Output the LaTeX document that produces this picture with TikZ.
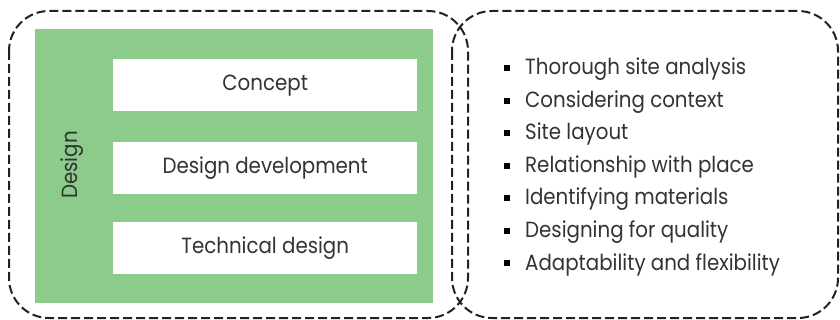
\documentclass[tikz,border=0pt]{standalone}
\usepackage{fontspec}
\setmainfont[FakeStretch=0.9]{Poppins}
\definecolor{stage}{HTML}{8DCB8B}
\definecolor{ink}{HTML}{333333}
\definecolor{dashink}{HTML}{222222}
\tikzset{
  frame/.style={draw=dashink, line width=2pt, dash pattern=on 9pt off 4pt, rounded corners=40pt},
  stagebox/.style={fill=stage, draw=none, inner sep=0pt, anchor=north west},
  phase/.style={fill=white, draw=none, inner sep=0pt, anchor=north west, minimum width=304pt, minimum height=52pt},
  txt/.style={text=ink, font=\fontsize{22}{26}\selectfont},
  item/.style={txt, anchor=base west, inner sep=0pt},
  bul/.style={fill=black, draw=none, minimum size=6pt, inner sep=0pt}
}
\begin{document}
\begin{tikzpicture}[x=1pt,y=-1pt]
\useasboundingbox (0,0) rectangle (840,320);
\draw[frame] (9,11) rectangle (468,318);
\draw[frame] (452,11) rectangle (838,318);
\node[stagebox, minimum width=398pt, minimum height=274pt] (stage) at (35,29) {};
\node[phase] (concept) at (113,59) {};
\node[txt] (conceptT) at (concept.center) {Concept};
\node[phase] (devel) at (113,142) {};
\node[txt] (develT) at (devel.center) {Design development};
\node[phase] (tech) at (113,222) {};
\node[txt] (techT) at (tech.center) {Technical design};
\node[txt, rotate=90] (design) at (72,165) {Design};
\foreach \t [count=\i from 0] in {Thorough site analysis, Considering context, Site layout, Relationship with place, Identifying materials, Designing for quality, Adaptability and flexibility}{
  \node[item] (it\i) at (525,75+32.5*\i) {\t};
  \node[bul] (b\i) at (507,68.5+32.5*\i) {};
}
\end{tikzpicture}
\end{document}
